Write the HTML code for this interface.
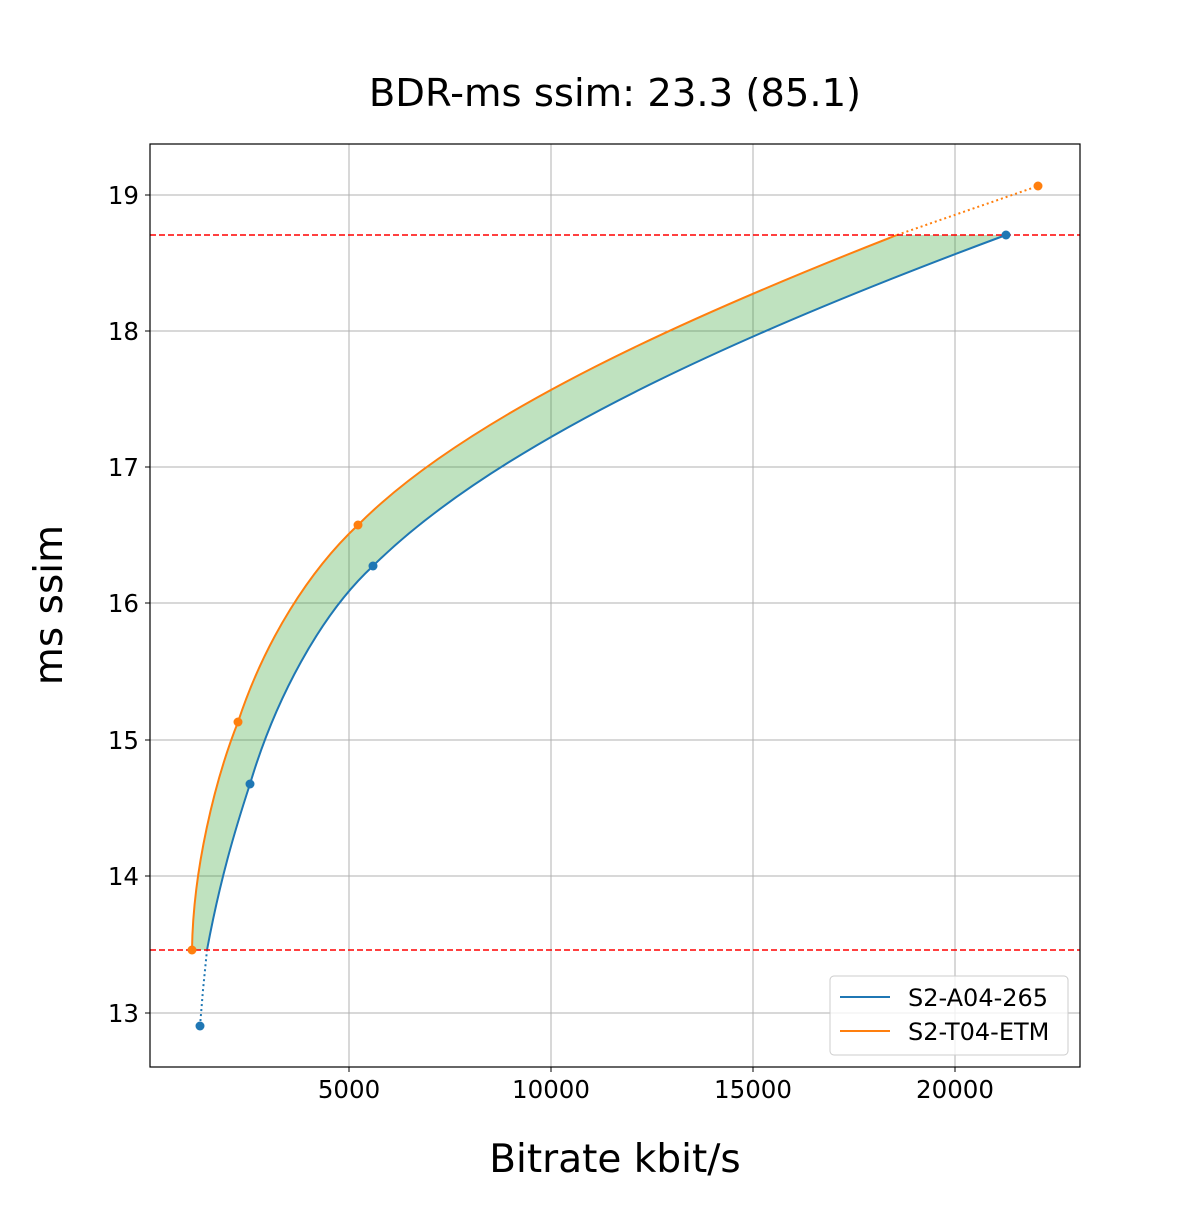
<!DOCTYPE html>
<html><head><meta charset="utf-8"><style>body{margin:0;background:#fff}</style></head><body>
<svg width="1200" height="1200" xmlns="http://www.w3.org/2000/svg" font-family="'DejaVu Sans','Liberation Sans',sans-serif">
<rect width="1200" height="1200" fill="#fff"/>
<text x="615" y="106" font-size="38.5" text-anchor="middle">BDR-ms ssim: 23.3 (85.1)</text>
<g stroke="#b0b0b0" stroke-width="1">
<line x1="349" y1="144" x2="349" y2="1067"/><line x1="551" y1="144" x2="551" y2="1067"/>
<line x1="753" y1="144" x2="753" y2="1067"/><line x1="955" y1="144" x2="955" y2="1067"/>
<line x1="150" y1="195" x2="1080" y2="195"/><line x1="150" y1="331" x2="1080" y2="331"/>
<line x1="150" y1="467" x2="1080" y2="467"/><line x1="150" y1="603" x2="1080" y2="603"/>
<line x1="150" y1="740" x2="1080" y2="740"/><line x1="150" y1="876" x2="1080" y2="876"/>
<line x1="150" y1="1013" x2="1080" y2="1013"/>
</g>
<path d="M192,950 C193,870 215,780 238,722 C265,640 310,570 358,525 C470,412 700,312 897,235 L1006,235 C750,330 500,440 373,566 C320,615 275,700 250,784 C235,830 220,880 207,950 Z" fill="#2ca02c" fill-opacity="0.3"/>
<g fill="none" stroke-width="2">
<path d="M207,950 C220,880 235,830 250,784 C275,700 320,615 373,566 C500,440 750,330 1006,235" stroke="#1f77b4"/>
<path d="M200,1026 L203,990 L207,950" stroke="#1f77b4" stroke-dasharray="2,3"/>
<path d="M192,950 C193,870 215,780 238,722 C265,640 310,570 358,525 C470,412 700,312 897,235" stroke="#ff7f0e"/>
<path d="M897,235 L1038,186" stroke="#ff7f0e" stroke-dasharray="2,3"/>
</g>
<g stroke="#ff0000" stroke-width="1.6" stroke-dasharray="6,3">
<line x1="150" y1="235" x2="1080" y2="235"/><line x1="150" y1="950" x2="1080" y2="950"/>
</g>
<g fill="#1f77b4"><circle cx="200" cy="1026" r="4.5"/><circle cx="250" cy="784" r="4.5"/><circle cx="373" cy="566" r="4.5"/><circle cx="1006" cy="235" r="4.5"/></g>
<g fill="#ff7f0e"><circle cx="192" cy="950" r="4.5"/><circle cx="238" cy="722" r="4.5"/><circle cx="358" cy="525" r="4.5"/><circle cx="1038" cy="186" r="4.5"/></g>
<rect x="150" y="144" width="930" height="923" fill="none" stroke="#000" stroke-width="1.2"/>
<g stroke="#000"><line x1="349" y1="1067" x2="349" y2="1072"/><line x1="551" y1="1067" x2="551" y2="1072"/><line x1="753" y1="1067" x2="753" y2="1072"/><line x1="955" y1="1067" x2="955" y2="1072"/>
<line x1="145" y1="195" x2="150" y2="195"/><line x1="145" y1="331" x2="150" y2="331"/><line x1="145" y1="467" x2="150" y2="467"/><line x1="145" y1="603" x2="150" y2="603"/><line x1="145" y1="740" x2="150" y2="740"/><line x1="145" y1="876" x2="150" y2="876"/><line x1="145" y1="1013" x2="150" y2="1013"/></g>
<g font-size="24.5" text-anchor="middle"><text x="349" y="1098">5000</text><text x="551" y="1098">10000</text><text x="753" y="1098">15000</text><text x="955" y="1098">20000</text></g>
<g font-size="24.5" text-anchor="end"><text x="139" y="204">19</text><text x="139" y="340">18</text><text x="139" y="476">17</text><text x="139" y="612">16</text><text x="139" y="749">15</text><text x="139" y="885">14</text><text x="139" y="1022">13</text></g>
<text x="615" y="1172" font-size="39" text-anchor="middle">Bitrate kbit/s</text>
<text transform="translate(62,605) rotate(-90)" font-size="39" text-anchor="middle">ms ssim</text>
<rect x="830" y="976" width="238" height="79" rx="4" fill="#fff" fill-opacity="0.8" stroke="#ccc"/>
<line x1="840" y1="997" x2="890" y2="997" stroke="#1f77b4" stroke-width="2"/>
<line x1="840" y1="1031" x2="890" y2="1031" stroke="#ff7f0e" stroke-width="2"/>
<text x="908" y="1006" font-size="24">S2-A04-265</text>
<text x="908" y="1040" font-size="24">S2-T04-ETM</text>
</svg>
</body></html>
